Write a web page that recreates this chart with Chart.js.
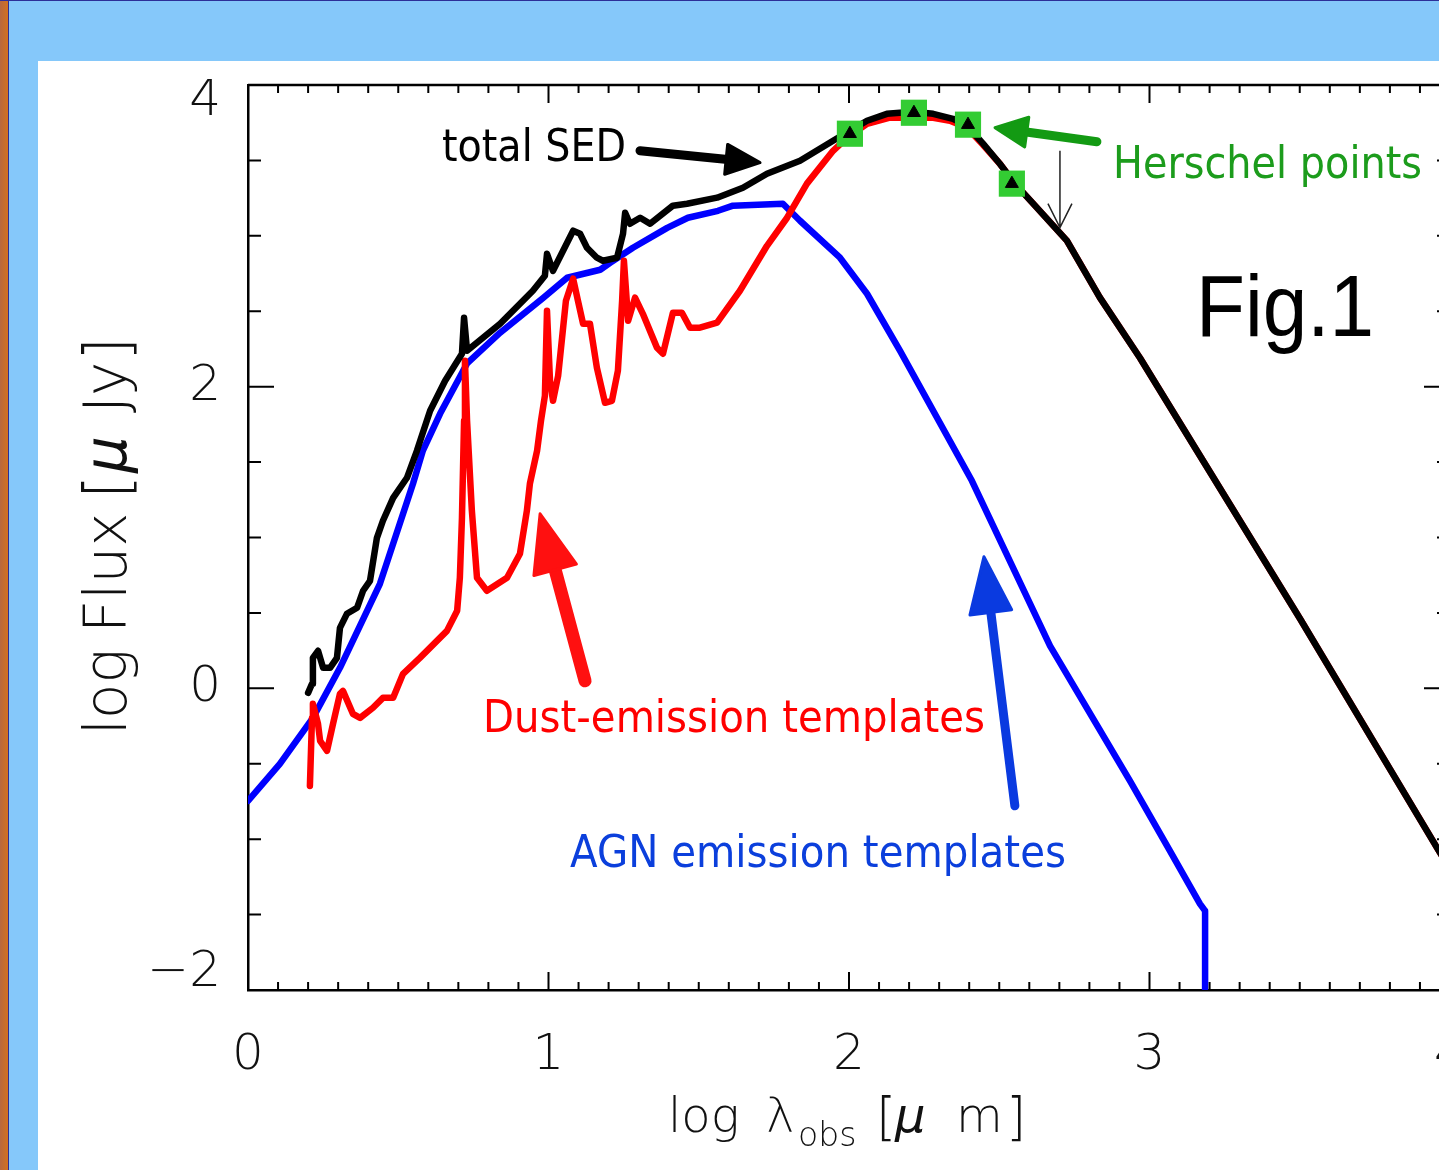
<!DOCTYPE html>
<html>
<head>
<meta charset="utf-8">
<script src="https://cdn.jsdelivr.net/npm/chart.js@4.4.1/dist/chart.umd.min.js"></script>
<style>
html,body{margin:0;padding:0;overflow:hidden;width:1439px;height:1170px;background:#85c8fa;}
#wrap{position:absolute;left:0;top:0;width:1470px;height:1170px;}
canvas{display:block;}
</style>
</head>
<body>
<div id="wrap"><canvas id="c" width="1470" height="1170"></canvas></div>
<script>
// ---------------- DATA ----------------
const xTickValues = [0, 1, 2, 3, 4];
const xTickLabels = ['0', '1', '2', '3', '4'];
const yTickValues = [-2, 0, 2, 4];
const yTickLabels = ['\u22122', '0', '2', '4'];

// total SED (black)
const sedX = [0.200,0.213,0.216,0.233,0.250,0.273,0.296,0.306,0.329,0.363,0.383,0.406,0.429,0.449,0.483,0.529,0.562,0.606,0.656,0.712,0.719,0.729,0.839,0.948,0.988,0.995,1.015,1.082,1.105,1.128,1.161,1.181,1.228,1.248,1.255,1.271,1.305,1.338,1.414,1.461,1.561,1.647,1.727,1.837,1.947,2.003,2.060,2.126,2.213,2.280,2.346,2.393,2.446,2.502,2.552,2.619,2.725,2.835,2.968,3.168,3.501,3.963,4.000];
const sedY = [-0.030,0.030,0.202,0.249,0.136,0.136,0.202,0.401,0.494,0.534,0.647,0.713,0.998,1.111,1.263,1.396,1.575,1.840,2.039,2.218,2.457,2.238,2.417,2.636,2.736,2.881,2.768,3.034,3.014,2.921,2.855,2.835,2.855,3.014,3.153,3.080,3.120,3.080,3.200,3.213,3.253,3.319,3.412,3.498,3.630,3.697,3.763,3.809,3.823,3.809,3.776,3.730,3.611,3.478,3.346,3.200,2.968,2.590,2.192,1.542,0.461,-1.078,-1.197];

// dust-emission template (red)
const dustX = [0.206,0.213,0.216,0.233,0.240,0.263,0.283,0.306,0.316,0.349,0.373,0.416,0.449,0.483,0.516,0.572,0.662,0.696,0.705,0.712,0.719,0.722,0.729,0.745,0.762,0.795,0.862,0.905,0.928,0.938,0.962,0.975,0.988,0.995,1.005,1.015,1.032,1.058,1.082,1.098,1.115,1.138,1.161,1.188,1.211,1.231,1.245,1.251,1.265,1.288,1.314,1.361,1.381,1.414,1.444,1.471,1.504,1.561,1.637,1.727,1.794,1.860,1.947,1.993,2.060,2.136,2.226,2.280,2.336,2.393,2.446,2.502,2.552,2.619,2.725,2.835,2.968,3.168,3.501,3.963,4.000];
const dustY = [-0.647,-0.196,-0.103,-0.235,-0.348,-0.414,-0.235,-0.036,-0.017,-0.169,-0.196,-0.129,-0.063,-0.063,0.096,0.202,0.381,0.514,0.733,1.131,1.774,2.172,1.774,1.177,0.733,0.647,0.733,0.892,1.177,1.356,1.575,1.774,1.940,2.504,2.039,1.906,2.072,2.570,2.716,2.570,2.417,2.417,2.125,1.893,1.906,2.106,2.570,2.835,2.437,2.590,2.483,2.258,2.218,2.490,2.490,2.391,2.391,2.424,2.636,2.934,3.120,3.346,3.564,3.650,3.743,3.783,3.783,3.783,3.763,3.717,3.604,3.478,3.346,3.200,2.968,2.590,2.192,1.542,0.461,-1.078,-1.197];

// AGN emission template (blue)
const agnX = [0.000,0.106,0.216,0.306,0.439,0.549,0.582,0.639,0.729,0.839,0.983,1.062,1.172,1.205,1.281,1.395,1.464,1.564,1.614,1.780,1.837,1.970,2.060,2.170,2.409,2.669,2.935,3.068,3.168,3.185,3.185];
const agnY = [-0.746,-0.501,-0.196,0.136,0.693,1.356,1.576,1.820,2.154,2.358,2.590,2.722,2.775,2.821,2.921,3.053,3.120,3.166,3.200,3.213,3.100,2.855,2.616,2.238,1.376,0.282,-0.613,-1.077,-1.429,-1.476,-2.000];

// Herschel points
const herschelX = [2.003, 2.216, 2.396, 2.542];
const herschelY = [3.677, 3.816, 3.737, 3.346];

// upper limit (thin arrow)
const upperLimitX = [2.702];
const upperLimitY = [3.564];
const upperLimitTipY = [3.054];

// ---------------- annotation layout (data units) ----------------
const notes = [
  {text:'total SED', x:0.6456, y:3.498, w:184, size:44, color:'#000000', fam:'"DejaVu Sans"'},
  {text:'Herschel points', x:2.8785, y:3.385, w:309, size:44, color:'#1c9c1c', fam:'"DejaVu Sans"'},
  {text:'Fig.1', x:3.1547, y:2.338, w:178, size:88, color:'#000000', fam:'"Liberation Sans", Arial'},
  {text:'Dust-emission templates', x:0.782, y:-0.288, w:502, size:44, color:'#ff0000', fam:'"DejaVu Sans"'},
  {text:'AGN emission templates', x:1.0715, y:-1.184, w:496, size:44, color:'#0b3fdc', fam:'"DejaVu Sans"'}
];
const arrows = [
  {from:[1.3045,3.564], to:[1.7038,3.485], color:'#000000', lw:9, hl:34, hw:30},
  {from:[2.825,3.624], to:[2.486,3.717], color:'#139a13', lw:9, hl:32, hw:30},
  {from:[1.1215,0.050], to:[0.972,1.157], color:'#ff1010', lw:13, hl:58, hw:44},
  {from:[2.552,-0.779], to:[2.449,0.872], color:'#0a3ae0', lw:9, hl:56, hw:42}
];

const toXY = (xa, ya) => xa.map((x, i) => ({x: x, y: ya[i]}));
const AX_FONT = '"DejaVu Sans", sans-serif';

function drawArrow(c, x0, y0, x1, y1, color, lw, hl, hw) {
  const dx = x1 - x0, dy = y1 - y0, L = Math.hypot(dx, dy);
  const ux = dx / L, uy = dy / L, px = -uy, py = ux;
  const bx = x1 - ux * hl, by = y1 - uy * hl;
  c.save();
  c.strokeStyle = color; c.fillStyle = color; c.lineWidth = lw; c.lineCap = 'round';
  c.beginPath(); c.moveTo(x0, y0); c.lineTo(bx + ux * 4, by + uy * 4); c.stroke();
  c.beginPath(); c.moveTo(x1, y1);
  c.lineTo(bx + px * hw / 2, by + py * hw / 2);
  c.lineTo(bx - px * hw / 2, by - py * hw / 2);
  c.closePath(); c.lineJoin = 'round'; c.lineWidth = 3; c.fill(); c.stroke();
  c.restore();
}

function seg(c, s, x, y, size, italic) {
  c.font = (italic ? 'italic ' : '') + '200 ' + size + 'px ' + AX_FONT;
  c.fillText(s, x, y);
}

const deco = {
  id: 'deco',
  beforeDraw(chart) {
    const c = chart.ctx, W = chart.width, H = chart.height;
    c.save();
    c.fillStyle = '#85c8fa'; c.fillRect(0, 0, W, H);
    const g = c.createLinearGradient(0, 0, 8, 0);
    g.addColorStop(0, '#b8683e'); g.addColorStop(1, '#d2711f');
    c.fillStyle = g; c.fillRect(0, 0, 8, H);
    c.fillStyle = '#2c2f98'; c.fillRect(8, 0, 1, H); c.fillRect(0, 0, W, 1);
    c.fillStyle = '#ffffff'; c.fillRect(38, 61, W - 38, H - 61);
    c.restore();
  },
  afterDraw(chart) {
    const c = chart.ctx, a = chart.chartArea;
    const xs = chart.scales.x, ys = chart.scales.y;
    c.save();
    // frame top / right
    c.strokeStyle = '#000'; c.lineWidth = 2.5;
    c.beginPath(); c.moveTo(a.left, a.top); c.lineTo(a.right, a.top); c.lineTo(a.right, a.bottom); c.stroke();
    // inward ticks
    c.lineWidth = 2;
    for (let i = 0; i <= 40; i++) {
      const px = xs.getPixelForValue(i / 10), L = (i % 10 === 0) ? 18 : 8;
      c.beginPath();
      c.moveTo(px, a.bottom); c.lineTo(px, a.bottom - L);
      c.moveTo(px, a.top); c.lineTo(px, a.top + L);
      c.stroke();
    }
    for (let i = -4; i <= 8; i++) {
      const py = ys.getPixelForValue(i / 2), L = (i % 4 === 0) ? 26 : 13;
      c.beginPath();
      c.moveTo(a.left, py); c.lineTo(a.left + L, py);
      c.moveTo(a.right, py); c.lineTo(a.right - L, py);
      c.stroke();
    }
    // upper limit arrow (thin)
    upperLimitX.forEach((ux, i) => {
      const px = xs.getPixelForValue(ux), p0 = ys.getPixelForValue(upperLimitY[i]), p1 = ys.getPixelForValue(upperLimitTipY[i]);
      c.lineWidth = 1.5; c.strokeStyle = '#222';
      c.beginPath(); c.moveTo(px, p0); c.lineTo(px, p1);
      c.moveTo(px - 12, p1 - 24); c.lineTo(px, p1); c.lineTo(px + 12, p1 - 24); c.stroke();
    });
    // thick annotation arrows
    arrows.forEach(ar => {
      drawArrow(c, xs.getPixelForValue(ar.from[0]), ys.getPixelForValue(ar.from[1]),
                xs.getPixelForValue(ar.to[0]), ys.getPixelForValue(ar.to[1]), ar.color, ar.lw, ar.hl, ar.hw);
    });
    // annotation texts
    c.textBaseline = 'alphabetic'; c.textAlign = 'left';
    notes.forEach(n => {
      c.font = n.size + 'px ' + n.fam;
      const m = c.measureText(n.text).width;
      const x = xs.getPixelForValue(n.x), y = ys.getPixelForValue(n.y);
      c.save(); c.translate(x, y); c.scale(n.w / m, 1);
      c.fillStyle = n.color; c.fillText(n.text, 0, 0);
      c.restore();
    });
    // x axis title: log λ_obs [μ m]
    c.fillStyle = '#111';
    seg(c, 'log', 668, 1132, 48);
    seg(c, '\u03bb', 766, 1132, 48);
    seg(c, 'obs', 798, 1146, 33);
    seg(c, '[', 876, 1134, 52);
    seg(c, '\u03bc', 895, 1132, 48, true);
    seg(c, 'm', 956, 1132, 48);
    seg(c, ']', 1006, 1134, 52);
    // y axis title: log Flux [μ Jy]
    c.save(); c.translate(126, 735); c.rotate(-Math.PI / 2);
    seg(c, 'log', 0, 0, 58);
    seg(c, 'Flux', 102, 0, 58);
    seg(c, '[', 236, 2, 62);
    seg(c, '\u03bc', 262, 0, 58, true);
    seg(c, 'Jy', 322, 0, 58);
    seg(c, ']', 374, 2, 62);
    c.restore();
    c.restore();
  }
};

const lineDs = (label, xa, ya, color, order) => ({
  label: label, data: toXY(xa, ya), borderColor: color, backgroundColor: color,
  borderWidth: 6.5, pointRadius: 0, tension: 0, fill: false, order: order,
  borderJoinStyle: 'round', borderCapStyle: 'round'
});

new Chart(document.getElementById('c'), {
  type: 'line',
  data: {
    datasets: [
      {label: 'Herschel marker', data: toXY(herschelX, herschelY), showLine: false, pointStyle: 'triangle',
       pointRadius: 7.5, pointBackgroundColor: '#000', pointBorderColor: '#000', pointBorderWidth: 1, order: 0},
      {label: 'Herschel points', data: toXY(herschelX, herschelY), showLine: false, pointStyle: 'rect',
       pointRadius: 18.5, pointBackgroundColor: '#33cc33', pointBorderWidth: 0, order: 1},
      lineDs('total SED', sedX, sedY, '#000000', 2),
      lineDs('Dust-emission templates', dustX, dustY, '#ff0000', 3),
      lineDs('AGN emission templates', agnX, agnY, '#0000ff', 4)
    ]
  },
  options: {
    responsive: false, animation: false, devicePixelRatio: 1,
    layout: {padding: {left: 0, top: 85, right: 20, bottom: 0}},
    plugins: {legend: {display: false}, tooltip: {enabled: false}},
    scales: {
      x: {
        type: 'linear', position: 'bottom', min: 0, max: 4,
        afterBuildTicks: s => { s.ticks = xTickValues.map(v => ({value: v})); },
        ticks: {padding: 28, color: '#111', maxRotation: 0, autoSkip: false,
                font: {family: AX_FONT, size: 50, weight: '200', lineHeight: 1.2},
                callback: v => { const i = xTickValues.indexOf(v); return i < 0 ? '' : xTickLabels[i]; }},
        grid: {display: false},
        border: {display: true, color: '#000', width: 2.5},
        afterFit: s => { s.height = 180; s.paddingLeft = 0; s.paddingRight = 0; }
      },
      y: {
        type: 'linear', position: 'left', min: -2, max: 4,
        afterBuildTicks: s => { s.ticks = yTickValues.map(v => ({value: v})); },
        ticks: {padding: 19, color: '#111', autoSkip: false,
                font: {family: AX_FONT, size: 50, weight: '200', lineHeight: 0.68},
                callback: v => {
                  const i = yTickValues.indexOf(v); if (i < 0) return '';
                  const s = yTickLabels[i];
                  if (v === 4) return ['', s];
                  if (v === -2) return [s, ''];
                  return s;
                }},
        grid: {display: false},
        border: {display: true, color: '#000', width: 2.5},
        afterFit: s => { s.width = 248; s.paddingTop = 0; s.paddingBottom = 0; }
      }
    }
  },
  plugins: [deco]
});
</script>
</body>
</html>
